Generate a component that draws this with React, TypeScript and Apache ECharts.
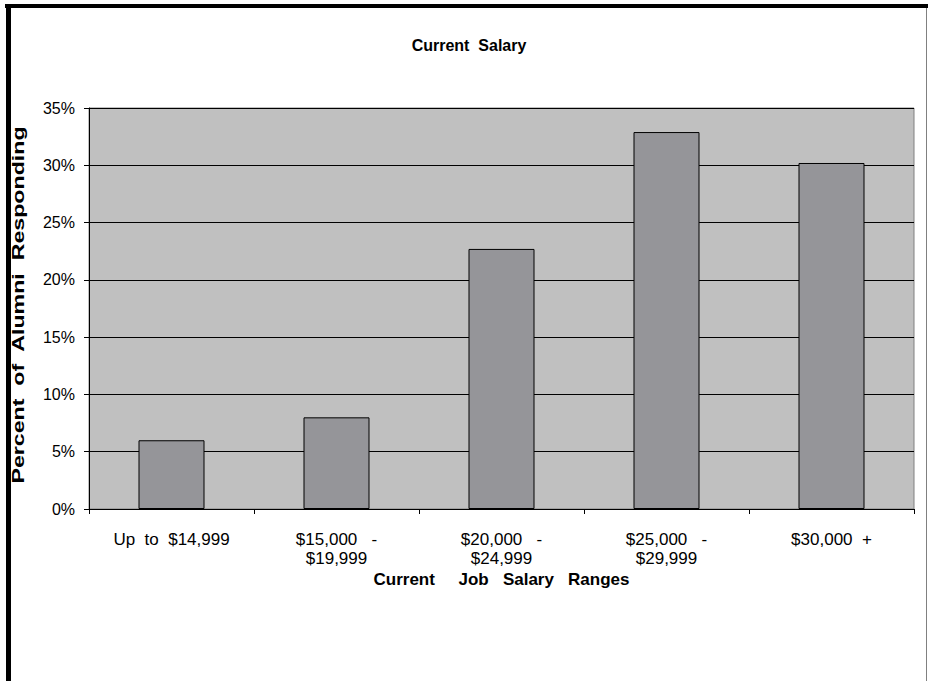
import React, { useEffect, useRef } from "react";
import * as echarts from "echarts";

const categories = [
  "Up  to  $14,999",
  "$15,000   -\n$19,999",
  "$20,000   -\n$24,999",
  "$25,000   -\n$29,999",
  "$30,000  +",
];
const values = [6.0, 8.0, 22.7, 32.9, 30.2];
const yTicks = [0, 5, 10, 15, 20, 25, 30, 35];

const chartTitle = "Current  Salary";
const xTitle = "Current     Job   Salary   Ranges";
const yTitle = "Percent  of  Alumni  Responding";

export default function App() {
  const ref = useRef<HTMLDivElement>(null);
  useEffect(() => {
    if (!ref.current) return;
    const chart = echarts.init(ref.current, undefined, { renderer: "svg" });
    const font = "'Liberation Sans', Arial, sans-serif";
    chart.setOption({
      animation: false,
      backgroundColor: "#ffffff",
      title: {
        text: chartTitle,
        left: 464,
        top: 32,
        textAlign: "center",
        textStyle: { fontFamily: font, fontSize: 16, fontWeight: "bold", color: "#000" },
      },
      grid: {
        left: 89,
        right: 14,
        top: 108,
        bottom: 172,
        show: true,
        backgroundColor: "#c0c0c0",
        borderColor: "#808080",
        borderWidth: 1,
        outerBoundsMode: "none",
        containLabel: false,
      },
      xAxis: {
        type: "category",
        data: categories,
        name: xTitle,
        nameLocation: "middle",
        nameGap: 62,
        nameMoveOverlap: false,
        nameTextStyle: { fontFamily: font, fontSize: 17, fontWeight: "bold", color: "#000" },
        axisLine: { show: true, lineStyle: { color: "#000", width: 1 } },
        axisTick: { show: true, length: 5, alignWithLabel: false, lineStyle: { color: "#000" } },
        axisLabel: {
          fontFamily: font,
          fontSize: 17,
          color: "#000",
          margin: 21,
          lineHeight: 19,
          interval: 0,
        },
      },
      yAxis: {
        type: "value",
        min: 0,
        max: 35,
        interval: 5,
        axisLine: { show: true, lineStyle: { color: "#000", width: 1 } },
        axisTick: { show: true, length: 5, lineStyle: { color: "#000" } },
        axisLabel: {
          fontFamily: font,
          fontSize: 16,
          color: "#000",
          margin: 14,
          formatter: (v: number) => (yTicks.includes(v) ? v + "%" : ""),
        },
        splitLine: { show: true, lineStyle: { color: "#000", width: 1 } },
      },
      series: [
        {
          type: "bar",
          data: values,
          barWidth: 66,
          itemStyle: { color: "#959599", borderColor: "#000", borderWidth: 1 },
        },
      ],
      graphic: [
        { type: "rect", shape: { x: 5, y: 4, width: 923, height: 4 }, style: { fill: "#000" } },
        { type: "rect", shape: { x: 6, y: 4, width: 5, height: 677 }, style: { fill: "#000" } },
        { type: "rect", shape: { x: 926, y: 8, width: 1, height: 673 }, style: { fill: "#808080" } },
        {
          type: "text",
          x: 18,
          y: 305,
          rotation: Math.PI / 2,
          scaleX: 1.45,
          style: {
            text: yTitle,
            fontFamily: font,
            fontSize: 16,
            fontWeight: "bold",
            fill: "#000",
            align: "center",
            verticalAlign: "middle",
          },
        },
      ],
    });
    return () => chart.dispose();
  }, []);
  return <div ref={ref} style={{ width: 928, height: 681, position: "absolute", left: 0, top: 0 }} />;
}
